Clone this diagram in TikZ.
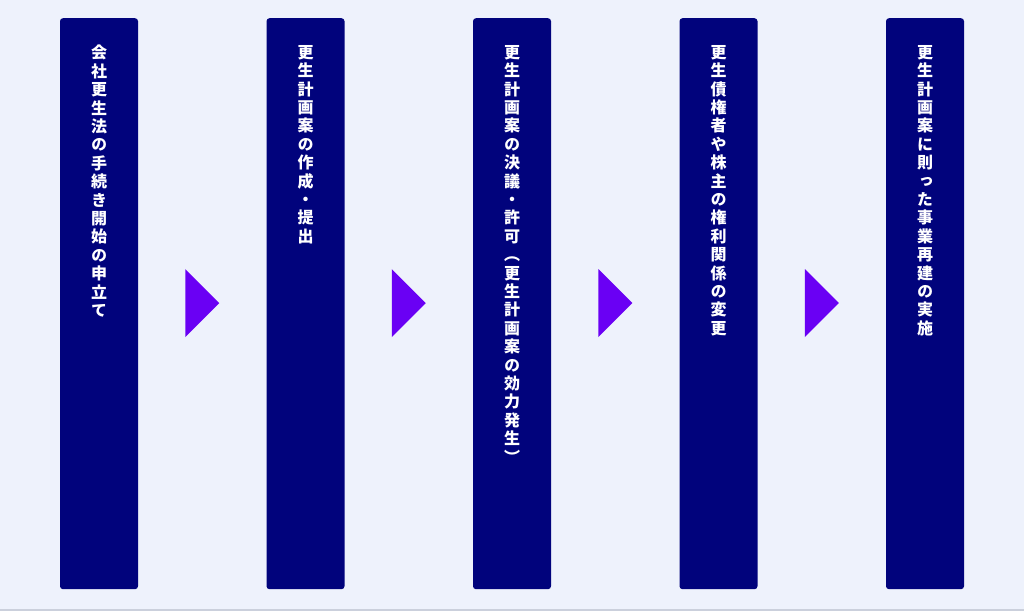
\documentclass[tikz,border=0pt]{standalone}
\usepackage{fontspec}
\newfontfamily\jp[RawFeature={+vert}]{Noto Sans CJK JP}
\definecolor{bgc}{HTML}{EEF2FC}
\definecolor{navyc}{HTML}{01037C}
\definecolor{purp}{HTML}{6A00F4}
\definecolor{linec}{HTML}{CBD0DC}
\tikzset{
  stepbox/.style={fill=navyc, rounded corners=3pt, minimum width=78pt, minimum height=571pt, inner sep=0pt, anchor=north},
  vtext/.style={text=white, font=\jp\bfseries\fontsize{16pt}{18.4pt}\selectfont, align=center, inner sep=0pt, anchor=north, yshift=-27pt},
  tri/.style={fill=purp}
}
\begin{document}
\begin{tikzpicture}[x=1pt,y=-1pt]
\useasboundingbox (0,0) rectangle (1024,611);
\fill[bgc] (0,0) rectangle (1024,611);
\fill[linec] (0,609) rectangle (1024,611);
\node[stepbox] (b1) at (99,18) {};
\node[stepbox] (b2) at (305.5,18) {};
\node[stepbox] (b3) at (512,18) {};
\node[stepbox] (b4) at (718.5,18) {};
\node[stepbox] (b5) at (925,18) {};
\node[vtext] (t1) at (b1.north) {会\\社\\更\\生\\法\\の\\手\\続\\き\\開\\始\\の\\申\\立\\て};
\node[vtext] (t2) at (b2.north) {更\\生\\計\\画\\案\\の\\作\\成\\・\\提\\出};
\node[vtext] (t3) at (b3.north) {更\\生\\計\\画\\案\\の\\決\\議\\・\\許\\可\\（\\更\\生\\計\\画\\案\\の\\効\\力\\発\\生\\）};
\node[vtext] (t4) at (b4.north) {更\\生\\債\\権\\者\\や\\株\\主\\の\\権\\利\\関\\係\\の\\変\\更};
\node[vtext] (t5) at (b5.north) {更\\生\\計\\画\\案\\に\\則\\っ\\た\\事\\業\\再\\建\\の\\実\\施};
\foreach \a/\b in {b1/b2,b2/b3,b3/b4,b4/b5}{
  \path (\a.east) -- (\b.west) coordinate[pos=0.5] (m\a) ;
  \fill[tri] ([xshift=-17pt,yshift=-34pt]m\a |- 0,303) -- ([xshift=17pt]m\a |- 0,303) -- ([xshift=-17pt,yshift=34pt]m\a |- 0,303) -- cycle;
}
\end{tikzpicture}
\end{document}
